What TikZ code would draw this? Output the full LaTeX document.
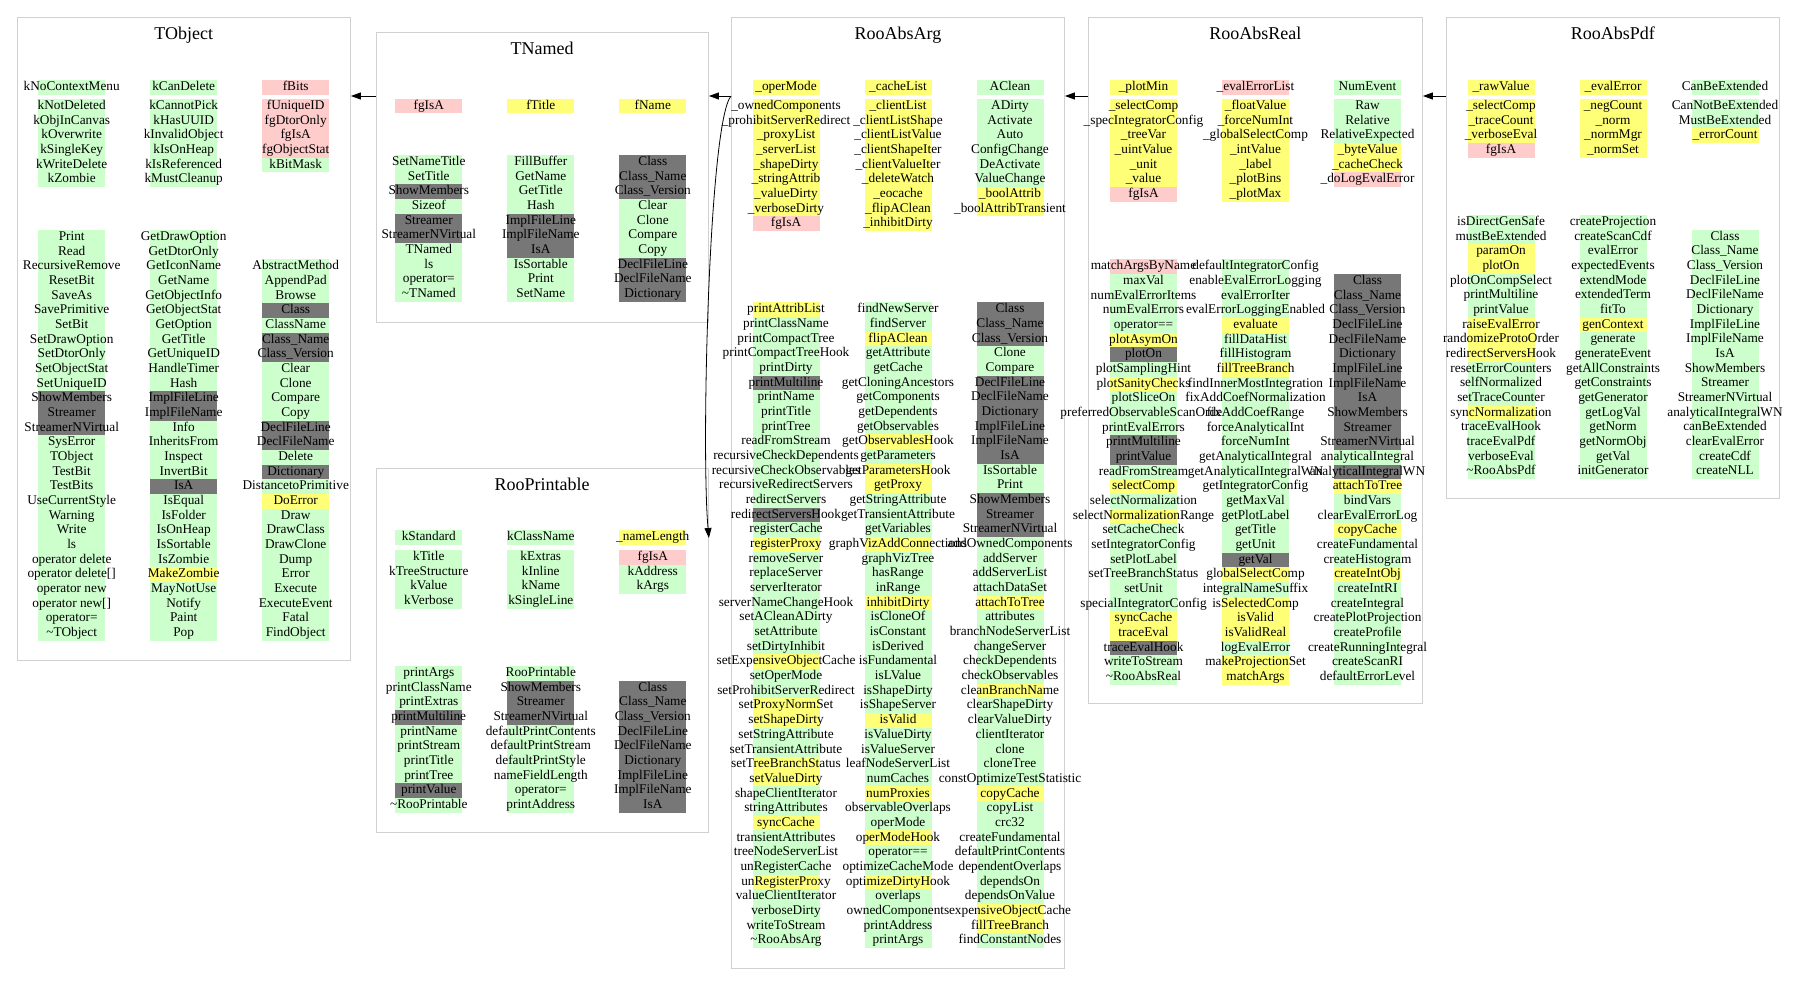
\documentclass[tikz,border=0pt]{standalone}
\usepackage{fontspec}
\setmainfont{Liberation Serif}
\usetikzlibrary{arrows.meta,positioning}
\definecolor{pub}{RGB}{204,255,204}
\definecolor{prot}{RGB}{255,255,119}
\definecolor{priv}{RGB}{255,204,204}
\definecolor{cdef}{RGB}{119,119,119}
\definecolor{boxline}{RGB}{208,208,208}
\tikzstyle{member} = [minimum width=67pt, minimum height=14.67pt, inner sep=0pt, text height=9.4pt, text depth=3pt, font=\fontsize{13.3}{14}\selectfont]
\tikzstyle{classbox} = [draw=boxline, line width=0.9pt, anchor=north west, inner sep=0pt]
\tikzstyle{classname} = [inner sep=0pt, text height=12.3pt, text depth=0pt, font=\fontsize{18}{20}\selectfont]
\tikzstyle{inherit} = [draw, line width=0.8pt, -{Triangle[length=10pt,width=7pt]}]

% one column of members, top cell centred at (x,y)
\newcommand{\members}[4]{%
  \foreach \fc/\nm [count=\i] in {#4}
    \node[member, fill=\fc] (#1-\i) at (#2, {#3+(\i-1)*14.67}) {\makebox[67pt]{\nm}};
}

\begin{document}
\begin{tikzpicture}[x=1pt, y=-1pt]
\useasboundingbox (0,0) rectangle (1795,995);

% TObject
\node[classbox, minimum width=333.3pt, minimum height=643.3pt] (tobject) at (16.7,16.7) {};
\node[classname] (tobject-name) at (tobject.north) [yshift=-16.6pt] {TObject};
\members{tobject-a1}{71.7}{87.2}{pub/kNoContextMenu}
\members{tobject-a2}{183.7}{87.2}{pub/kCanDelete}
\members{tobject-a3}{295.7}{87.2}{priv/fBits}
\members{tobject-b1}{71.7}{106.3}{pub/kNotDeleted, pub/kObjInCanvas, pub/kOverwrite, pub/kSingleKey, pub/kWriteDelete, pub/kZombie}
\members{tobject-b2}{183.7}{106.3}{pub/kCannotPick, pub/kHasUUID, pub/kInvalidObject, pub/kIsOnHeap, pub/kIsReferenced, pub/kMustCleanup}
\members{tobject-b3}{295.7}{106.3}{priv/fUniqueID, priv/fgDtorOnly, priv/fgIsA, priv/fgObjectStat, pub/kBitMask}
\members{tobject-m1}{71.7}{237.3}{pub/Print, pub/Read, pub/RecursiveRemove, pub/ResetBit, pub/SaveAs, pub/SavePrimitive, pub/SetBit, pub/SetDrawOption, pub/SetDtorOnly, pub/SetObjectStat, pub/SetUniqueID, cdef/ShowMembers, cdef/Streamer, cdef/StreamerNVirtual, pub/SysError, pub/TObject, pub/TestBit, pub/TestBits, pub/UseCurrentStyle, pub/Warning, pub/Write, pub/ls, pub/operator delete, pub/operator delete[], pub/operator new, pub/operator new[], pub/operator=, pub/\textasciitilde TObject}
\members{tobject-m2}{183.7}{237.3}{pub/GetDrawOption, pub/GetDtorOnly, pub/GetIconName, pub/GetName, pub/GetObjectInfo, pub/GetObjectStat, pub/GetOption, pub/GetTitle, pub/GetUniqueID, pub/HandleTimer, pub/Hash, cdef/ImplFileLine, cdef/ImplFileName, pub/Info, pub/InheritsFrom, pub/Inspect, pub/InvertBit, cdef/IsA, pub/IsEqual, pub/IsFolder, pub/IsOnHeap, pub/IsSortable, pub/IsZombie, prot/MakeZombie, pub/MayNotUse, pub/Notify, pub/Paint, pub/Pop}
\members{tobject-m3}{295.7}{266.64}{pub/AbstractMethod, pub/AppendPad, pub/Browse, cdef/Class, pub/ClassName, cdef/Class\_Name, cdef/Class\_Version, pub/Clear, pub/Clone, pub/Compare, pub/Copy, cdef/DeclFileLine, cdef/DeclFileName, pub/Delete, cdef/Dictionary, pub/DistancetoPrimitive, prot/DoError, pub/Draw, pub/DrawClass, pub/DrawClone, pub/Dump, pub/Error, pub/Execute, pub/ExecuteEvent, pub/Fatal, pub/FindObject}

% TNamed
\node[classbox, minimum width=332.5pt, minimum height=290pt] (tnamed) at (375.5,32) {};
\node[classname] (tnamed-name) at (tnamed.north) [yshift=-16.3pt] {TNamed};
\members{tnamed-a1}{428.8}{106}{priv/fgIsA}
\members{tnamed-a2}{540.8}{106}{prot/fTitle}
\members{tnamed-a3}{652.8}{106}{prot/fName}
\members{tnamed-m1}{428.8}{162.3}{pub/SetNameTitle, pub/SetTitle, cdef/ShowMembers, pub/Sizeof, cdef/Streamer, cdef/StreamerNVirtual, pub/TNamed, pub/ls, pub/operator=, pub/\textasciitilde TNamed}
\members{tnamed-m2}{540.8}{162.3}{pub/FillBuffer, pub/GetName, pub/GetTitle, pub/Hash, cdef/ImplFileLine, cdef/ImplFileName, cdef/IsA, pub/IsSortable, pub/Print, pub/SetName}
\members{tnamed-m3}{652.8}{162.3}{cdef/Class, cdef/Class\_Name, cdef/Class\_Version, pub/Clear, pub/Clone, pub/Compare, pub/Copy, cdef/DeclFileLine, cdef/DeclFileName, cdef/Dictionary}

% RooPrintable
\node[classbox, minimum width=332.5pt, minimum height=364pt] (rooprintable) at (375.5,468) {};
\node[classname] (rooprintable-name) at (rooprintable.north) [yshift=-16.3pt] {RooPrintable};
\members{rooprintable-a1}{428.8}{537.5}{pub/kStandard}
\members{rooprintable-a2}{540.8}{537.5}{pub/kClassName}
\members{rooprintable-a3}{652.8}{537.5}{prot/\_nameLength}
\members{rooprintable-b1}{428.8}{557.3}{pub/kTitle, pub/kTreeStructure, pub/kValue, pub/kVerbose}
\members{rooprintable-b2}{540.8}{557.3}{pub/kExtras, pub/kInline, pub/kName, pub/kSingleLine}
\members{rooprintable-b3}{652.8}{557.3}{priv/fgIsA, pub/kAddress, pub/kArgs}
\members{rooprintable-m1}{428.8}{673.3}{pub/printArgs, pub/printClassName, pub/printExtras, cdef/printMultiline, pub/printName, pub/printStream, pub/printTitle, pub/printTree, cdef/printValue, pub/\textasciitilde RooPrintable}
\members{rooprintable-m2}{540.8}{673.3}{pub/RooPrintable, cdef/ShowMembers, cdef/Streamer, cdef/StreamerNVirtual, pub/defaultPrintContents, pub/defaultPrintStream, pub/defaultPrintStyle, pub/nameFieldLength, pub/operator=, pub/printAddress}
\members{rooprintable-m3}{652.8}{687.97}{cdef/Class, cdef/Class\_Name, cdef/Class\_Version, cdef/DeclFileLine, cdef/DeclFileName, cdef/Dictionary, cdef/ImplFileLine, cdef/ImplFileName, cdef/IsA}

% RooAbsArg
\node[classbox, minimum width=333pt, minimum height=951.3pt] (rooabsarg) at (731,16.7) {};
\node[classname] (rooabsarg-name) at (rooabsarg.north) [yshift=-16.6pt] {RooAbsArg};
\members{rooabsarg-a1}{786}{87.2}{prot/\_operMode}
\members{rooabsarg-a2}{898}{87.2}{prot/\_cacheList}
\members{rooabsarg-a3}{1010}{87.2}{pub/AClean}
\members{rooabsarg-b1}{786}{106.3}{prot/\_ownedComponents, prot/\_prohibitServerRedirect, prot/\_proxyList, prot/\_serverList, prot/\_shapeDirty, prot/\_stringAttrib, prot/\_valueDirty, prot/\_verboseDirty, priv/fgIsA}
\members{rooabsarg-b2}{898}{106.3}{prot/\_clientList, prot/\_clientListShape, prot/\_clientListValue, prot/\_clientShapeIter, prot/\_clientValueIter, prot/\_deleteWatch, prot/\_eocache, prot/\_flipAClean, prot/\_inhibitDirty}
\members{rooabsarg-b3}{1010}{106.3}{pub/ADirty, pub/Activate, pub/Auto, pub/ConfigChange, pub/DeActivate, pub/ValueChange, prot/\_boolAttrib, prot/\_boolAttribTransient}
\members{rooabsarg-m1}{786}{309.7}{prot/printAttribList, pub/printClassName, pub/printCompactTree, pub/printCompactTreeHook, pub/printDirty, cdef/printMultiline, pub/printName, pub/printTitle, pub/printTree, pub/readFromStream, pub/recursiveCheckDependents, pub/recursiveCheckObservables, pub/recursiveRedirectServers, pub/redirectServers, cdef/redirectServersHook, pub/registerCache, prot/registerProxy, pub/removeServer, pub/replaceServer, pub/serverIterator, pub/serverNameChangeHook, pub/setACleanADirty, pub/setAttribute, pub/setDirtyInhibit, prot/setExpensiveObjectCache, pub/setOperMode, pub/setProhibitServerRedirect, prot/setProxyNormSet, prot/setShapeDirty, pub/setStringAttribute, pub/setTransientAttribute, prot/setTreeBranchStatus, prot/setValueDirty, pub/shapeClientIterator, pub/stringAttributes, prot/syncCache, pub/transientAttributes, pub/treeNodeServerList, pub/unRegisterCache, prot/unRegisterProxy, pub/valueClientIterator, pub/verboseDirty, pub/writeToStream, pub/\textasciitilde RooAbsArg}
\members{rooabsarg-m2}{898}{309.7}{pub/findNewServer, pub/findServer, prot/flipAClean, pub/getAttribute, pub/getCache, pub/getCloningAncestors, pub/getComponents, pub/getDependents, pub/getObservables, prot/getObservablesHook, pub/getParameters, prot/getParametersHook, prot/getProxy, pub/getStringAttribute, pub/getTransientAttribute, pub/getVariables, prot/graphVizAddConnections, pub/graphVizTree, pub/hasRange, pub/inRange, prot/inhibitDirty, pub/isCloneOf, pub/isConstant, pub/isDerived, pub/isFundamental, pub/isLValue, pub/isShapeDirty, pub/isShapeServer, prot/isValid, pub/isValueDirty, pub/isValueServer, pub/leafNodeServerList, pub/numCaches, prot/numProxies, pub/observableOverlaps, pub/operMode, prot/operModeHook, pub/operator==, pub/optimizeCacheMode, prot/optimizeDirtyHook, pub/overlaps, pub/ownedComponents, pub/printAddress, pub/printArgs}
\members{rooabsarg-m3}{1010}{309.7}{cdef/Class, cdef/Class\_Name, cdef/Class\_Version, pub/Clone, pub/Compare, cdef/DeclFileLine, cdef/DeclFileName, cdef/Dictionary, cdef/ImplFileLine, cdef/ImplFileName, cdef/IsA, pub/IsSortable, pub/Print, cdef/ShowMembers, cdef/Streamer, cdef/StreamerNVirtual, pub/addOwnedComponents, pub/addServer, pub/addServerList, pub/attachDataSet, prot/attachToTree, pub/attributes, pub/branchNodeServerList, pub/changeServer, pub/checkDependents, pub/checkObservables, prot/cleanBranchName, pub/clearShapeDirty, pub/clearValueDirty, pub/clientIterator, pub/clone, pub/cloneTree, pub/constOptimizeTestStatistic, prot/copyCache, pub/copyList, pub/crc32, pub/createFundamental, pub/defaultPrintContents, pub/dependentOverlaps, pub/dependsOn, pub/dependsOnValue, prot/expensiveObjectCache, prot/fillTreeBranch, pub/findConstantNodes}

% RooAbsReal
\node[classbox, minimum width=334pt, minimum height=686.3pt] (rooabsreal) at (1088,16.7) {};
\node[classname] (rooabsreal-name) at (rooabsreal.north) [yshift=-16.6pt] {RooAbsReal};
\members{rooabsreal-a1}{1143.5}{87.2}{prot/\_plotMin}
\members{rooabsreal-a2}{1255.5}{87.2}{priv/\_evalErrorList}
\members{rooabsreal-a3}{1367.5}{87.2}{pub/NumEvent}
\members{rooabsreal-b1}{1143.5}{106.3}{prot/\_selectComp, prot/\_specIntegratorConfig, prot/\_treeVar, prot/\_uintValue, prot/\_unit, prot/\_value, priv/fgIsA}
\members{rooabsreal-b2}{1255.5}{106.3}{prot/\_floatValue, prot/\_forceNumInt, prot/\_globalSelectComp, prot/\_intValue, prot/\_label, prot/\_plotBins, prot/\_plotMax}
\members{rooabsreal-b3}{1367.5}{106.3}{pub/Raw, pub/Relative, pub/RelativeExpected, prot/\_byteValue, prot/\_cacheCheck, priv/\_doLogEvalError}
\members{rooabsreal-m1}{1143.5}{266.7}{priv/matchArgsByName, pub/maxVal, pub/numEvalErrorItems, pub/numEvalErrors, pub/operator==, prot/plotAsymOn, cdef/plotOn, pub/plotSamplingHint, prot/plotSanityChecks, pub/plotSliceOn, pub/preferredObservableScanOrder, pub/printEvalErrors, cdef/printMultiline, cdef/printValue, pub/readFromStream, prot/selectComp, pub/selectNormalization, prot/selectNormalizationRange, pub/setCacheCheck, pub/setIntegratorConfig, pub/setPlotLabel, pub/setTreeBranchStatus, pub/setUnit, pub/specialIntegratorConfig, prot/syncCache, prot/traceEval, cdef/traceEvalHook, pub/writeToStream, pub/\textasciitilde RooAbsReal}
\members{rooabsreal-m2}{1255.5}{266.7}{pub/defaultIntegratorConfig, pub/enableEvalErrorLogging, pub/evalErrorIter, pub/evalErrorLoggingEnabled, prot/evaluate, pub/fillDataHist, pub/fillHistogram, prot/fillTreeBranch, pub/findInnerMostIntegration, pub/fixAddCoefNormalization, pub/fixAddCoefRange, pub/forceAnalyticalInt, pub/forceNumInt, pub/getAnalyticalIntegral, pub/getAnalyticalIntegralWN, pub/getIntegratorConfig, pub/getMaxVal, pub/getPlotLabel, pub/getTitle, pub/getUnit, cdef/getVal, prot/globalSelectComp, pub/integralNameSuffix, prot/isSelectedComp, prot/isValid, prot/isValidReal, pub/logEvalError, prot/makeProjectionSet, prot/matchArgs}
\members{rooabsreal-m3}{1367.5}{281.37}{cdef/Class, cdef/Class\_Name, cdef/Class\_Version, cdef/DeclFileLine, cdef/DeclFileName, cdef/Dictionary, cdef/ImplFileLine, cdef/ImplFileName, cdef/IsA, cdef/ShowMembers, cdef/Streamer, cdef/StreamerNVirtual, pub/analyticalIntegral, cdef/analyticalIntegralWN, prot/attachToTree, pub/bindVars, pub/clearEvalErrorLog, prot/copyCache, pub/createFundamental, pub/createHistogram, prot/createIntObj, pub/createIntRI, pub/createIntegral, pub/createPlotProjection, pub/createProfile, pub/createRunningIntegral, pub/createScanRI, pub/defaultErrorLevel}

% RooAbsPdf
\node[classbox, minimum width=333pt, minimum height=481.3pt] (rooabspdf) at (1446,16.7) {};
\node[classname] (rooabspdf-name) at (rooabspdf.north) [yshift=-16.6pt] {RooAbsPdf};
\members{rooabspdf-a1}{1501}{87.2}{prot/\_rawValue}
\members{rooabspdf-a2}{1613}{87.2}{prot/\_evalError}
\members{rooabspdf-a3}{1725}{87.2}{pub/CanBeExtended}
\members{rooabspdf-b1}{1501}{106.3}{prot/\_selectComp, prot/\_traceCount, prot/\_verboseEval, priv/fgIsA}
\members{rooabspdf-b2}{1613}{106.3}{prot/\_negCount, prot/\_norm, prot/\_normMgr, prot/\_normSet}
\members{rooabspdf-b3}{1725}{106.3}{pub/CanNotBeExtended, pub/MustBeExtended, prot/\_errorCount}
\members{rooabspdf-m1}{1501}{222.3}{pub/isDirectGenSafe, pub/mustBeExtended, prot/paramOn, prot/plotOn, pub/plotOnCompSelect, pub/printMultiline, pub/printValue, prot/raiseEvalError, prot/randomizeProtoOrder, prot/redirectServersHook, pub/resetErrorCounters, pub/selfNormalized, pub/setTraceCounter, prot/syncNormalization, pub/traceEvalHook, pub/traceEvalPdf, pub/verboseEval, pub/\textasciitilde RooAbsPdf}
\members{rooabspdf-m2}{1613}{222.3}{pub/createProjection, pub/createScanCdf, pub/evalError, pub/expectedEvents, pub/extendMode, pub/extendedTerm, pub/fitTo, prot/genContext, pub/generate, pub/generateEvent, pub/getAllConstraints, pub/getConstraints, pub/getGenerator, pub/getLogVal, pub/getNorm, pub/getNormObj, pub/getVal, pub/initGenerator}
\members{rooabspdf-m3}{1725}{236.97}{pub/Class, pub/Class\_Name, pub/Class\_Version, pub/DeclFileLine, pub/DeclFileName, pub/Dictionary, pub/ImplFileLine, pub/ImplFileName, pub/IsA, pub/ShowMembers, pub/Streamer, pub/StreamerNVirtual, pub/analyticalIntegralWN, pub/canBeExtended, pub/clearEvalError, pub/createCdf, pub/createNLL}

% inheritance
\coordinate (lvl) at (0,96);
\coordinate (lvlp) at (0,538);
\draw[inherit] (tnamed.west |- lvl) -- (tobject.east |- lvl);
\draw[inherit] (rooabsarg.west |- lvl) -- (tnamed.east |- lvl);
\draw[inherit] (rooabsarg.west |- lvl) .. controls (709,122) and (701,450) .. (rooprintable.east |- lvlp);
\draw[inherit] (rooabsreal.west |- lvl) -- (rooabsarg.east |- lvl);
\draw[inherit] (rooabspdf.west |- lvl) -- (rooabsreal.east |- lvl);
\end{tikzpicture}
\end{document}
